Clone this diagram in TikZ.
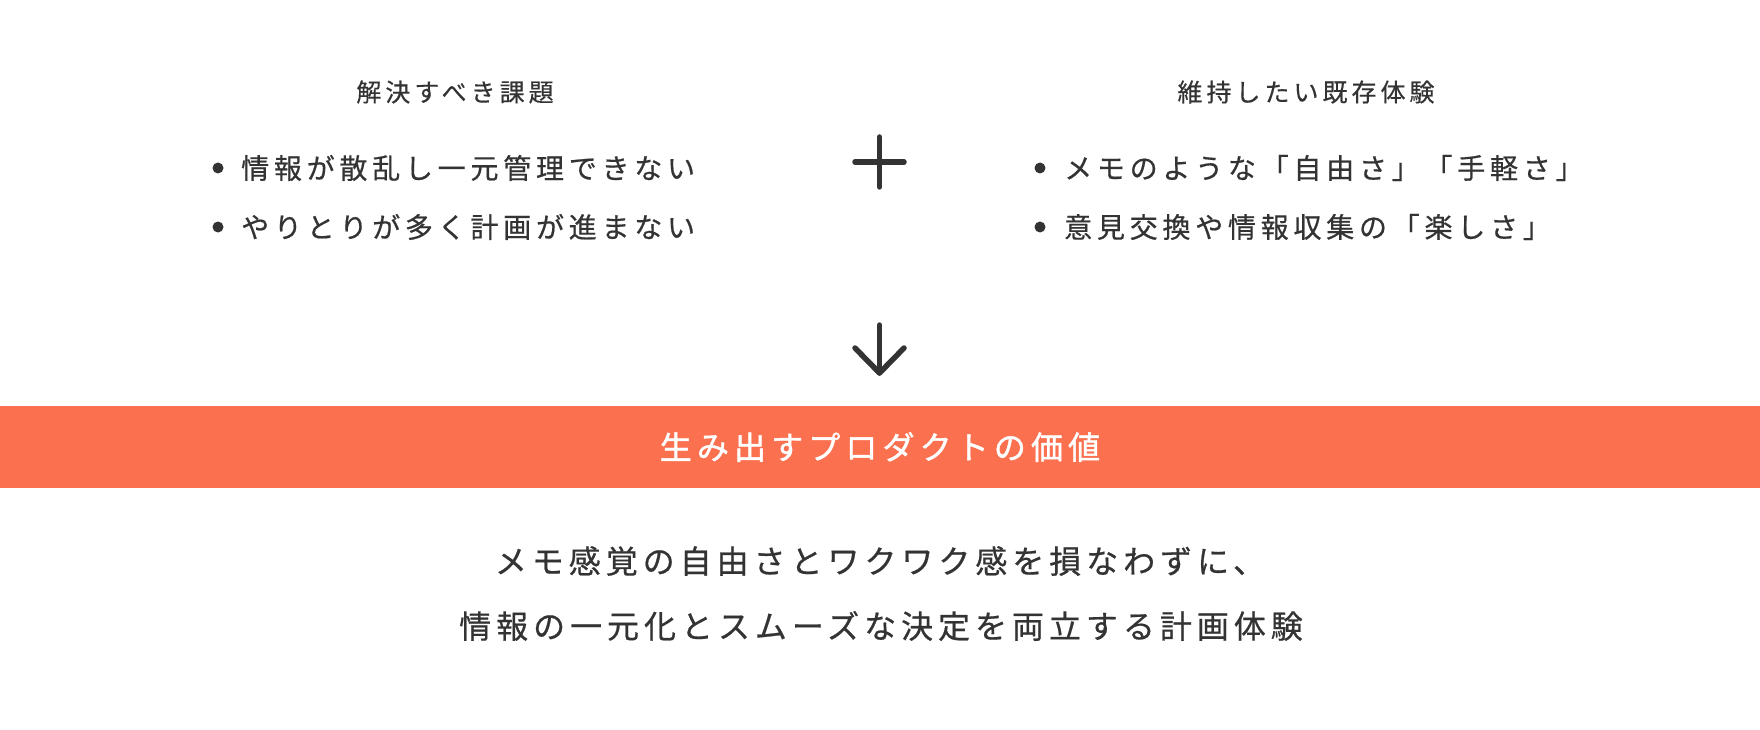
\documentclass[tikz,border=0pt]{standalone}
\usepackage{fontspec}
\setmainfont{Noto Sans CJK JP}
\newfontfamily\jphead[LetterSpace=16,FakeBold=0.4]{Noto Sans CJK JP}
\newfontfamily\jpitem[LetterSpace=17,FakeBold=0.6]{Noto Sans CJK JP}
\newfontfamily\jpband[LetterSpace=16,FakeBold=1.4]{Noto Sans CJK JP}
\newfontfamily\jpbody[LetterSpace=15.5,FakeBold=0.6]{Noto Sans CJK JP}
\definecolor{ink}{HTML}{333333}
\definecolor{accent}{HTML}{FB7150}
\begin{document}
\begin{tikzpicture}[x=1pt,y=-1pt,
  head/.style={text=ink, inner sep=0pt, font=\jphead\fontsize{25}{30}\selectfont},
  item/.style={text=ink, inner sep=0pt, anchor=west, font=\jpitem\fontsize{28}{32}\selectfont},
  dotmark/.style={fill=ink, circle, inner sep=0pt, minimum size=11pt},
  body/.style={text=ink, inner sep=0pt, font=\jpbody\fontsize{32}{38}\selectfont},
  bandbox/.style={fill=accent, text=white, inner sep=0pt, minimum width=1760pt, minimum height=82pt, font=\jpband\fontsize{32}{38}\selectfont},
  sym/.style={draw=ink, line width=5.5pt, line cap=round, line join=round}]
\useasboundingbox (0,0) rectangle (1760,730);

% headers
\node[head] (hL) at (455,92) {解決すべき課題};
\node[head] (hR) at (1306,92) {維持したい既存体験};

% left bullets
\node[dotmark] (dL1) at (218,168) {};
\node[item] (tL1) at (241,168) {情報が散乱し一元管理できない};
\node[dotmark] (dL2) at (218,227) {};
\node[item] (tL2) at (241,227) {やりとりが多く計画が進まない};

% right bullets
\node[dotmark] (dR1) at (1040,168) {};
\node[item] (tR1) at (1064,168) {メモのような「自由さ」「手軽さ」};
\node[dotmark] (dR2) at (1040,227) {};
\node[item] (tR2) at (1064,227) {意見交換や情報収集の「楽しさ」};

% plus sign
\coordinate (pc) at (879.5,162);
\draw[sym] ([xshift=-24.5pt]pc) -- ([xshift=24.5pt]pc);
\draw[sym] ([yshift=-25pt]pc) -- ([yshift=25pt]pc);

% down arrow
\coordinate (at) at (879.5,325);
\coordinate (ab) at (879.5,373);
\draw[sym] (at) -- (ab);
\draw[sym] ([xshift=-24.5pt,yshift=25pt]ab) -- (ab) -- ([xshift=24.5pt,yshift=25pt]ab);

% band
\node[bandbox] (band) at (880,447) {生み出すプロダクトの価値};

% body
\node[body] (b1) at (880,561) {メモ感覚の自由さとワクワク感を損なわずに、};
\node[body] (b2) at (881,626) {情報の一元化とスムーズな決定を両立する計画体験};
\end{tikzpicture}
\end{document}
